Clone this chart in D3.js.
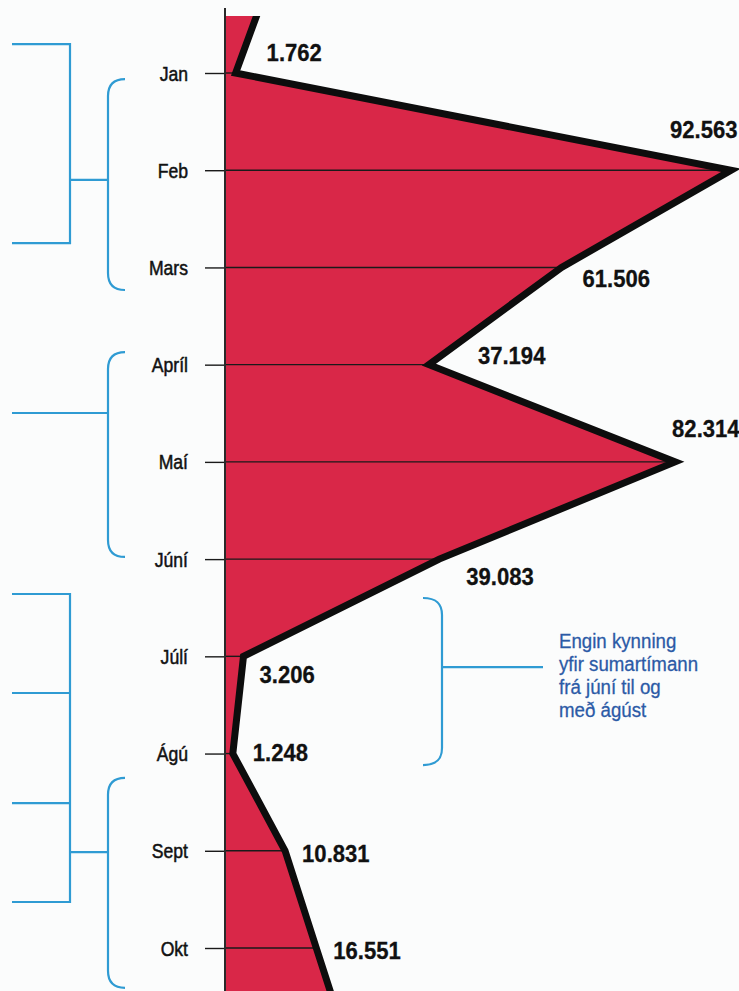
<!DOCTYPE html>
<html>
<head>
<meta charset="utf-8">
<script src="https://cdn.jsdelivr.net/npm/d3@7"></script>
<style>
  html, body { margin: 0; padding: 0; background: #fbfcfc; }
  svg { display: block; }
</style>
</head>
<body>
<svg id="chart" width="739" height="991"></svg>
<script>
// ---- data ----
const months = ["Jan", "Feb", "Mars", "Apríl", "Maí", "Júní", "Júlí", "Ágú", "Sept", "Okt"];
const values = [1.762, 92.563, 61.506, 37.194, 82.314, 39.083, 3.206, 1.248, 10.831, 16.551];
const valueLabels = ["1.762", "92.563", "61.506", "37.194", "82.314", "39.083", "3.206", "1.248", "10.831", "16.551"];
// months just outside the frame (Des before, Nóv after), estimated from the line's slope
const prevValue = 8.3;
const nextValue = 22.3;
const noteLines = ["Engin kynning", "yfir sumartímann", "frá júní til og", "með ágúst"];

// ---- layout ----
const W = 739, H = 991;
const svg = d3.select("#chart");
const y = d3.scaleLinear().domain([0, months.length - 1]).range([73, 948]);
const x = d3.scaleLinear().domain([0, 92.563]).range([226, 731]);

const series = [{ i: -1, v: prevValue }]
  .concat(values.map((v, i) => ({ i, v })))
  .concat([{ i: months.length, v: nextValue }]);

svg.append("defs").append("clipPath").attr("id", "clip")
  .append("rect").attr("x", 0).attr("y", 16).attr("width", W).attr("height", H - 16);

const RED = "#d92748";
const BLUE = "#2f9bd3";

const g = svg.append("g").attr("clip-path", "url(#clip)");

const area = d3.area()
  .y(d => y(d.i))
  .x0(x(0))
  .x1(d => x(d.v));
g.append("path").datum(series).attr("d", area).attr("fill", RED);

// thin lines from axis to value
g.selectAll("line.grid").data(values).join("line")
  .attr("class", "grid")
  .attr("x1", x(0)).attr("x2", d => x(d))
  .attr("y1", (d, i) => y(i)).attr("y2", (d, i) => y(i))
  .attr("stroke", "#1a1a1a").attr("stroke-width", 1.4);

const line = d3.line().y(d => y(d.i)).x(d => x(d.v));
g.append("path").datum(series).attr("d", line)
  .attr("fill", "none").attr("stroke", "#0d0d0d")
  .attr("stroke-width", 7).attr("stroke-linejoin", "miter").attr("stroke-miterlimit", 6);

// axis
const axis = d3.axisLeft(y)
  .tickValues(d3.range(months.length))
  .tickFormat(i => months[i])
  .tickSize(21)
  .tickSizeOuter(0);
const ax = svg.append("g").attr("transform", `translate(${x(0)},0)`).call(axis);
ax.select(".domain").remove();
ax.selectAll(".tick line").attr("stroke", "#1a1a1a").attr("stroke-width", 1.4);
ax.selectAll(".tick text")
  .attr("x", 0).attr("dy", "0.35em")
  .attr("transform", "translate(-38,0) scale(0.88,1)")
  .attr("font-family", "'Liberation Sans', Arial, sans-serif")
  .attr("font-size", 20)
  .attr("fill", "#111")
  .attr("stroke", "#111").attr("stroke-width", 0.5)
  .attr("text-anchor", "end");

svg.append("line")
  .attr("x1", x(0) - 1).attr("x2", x(0) - 1)
  .attr("y1", 8).attr("y2", H)
  .attr("stroke", "#2a2a2a").attr("stroke-width", 2);

// value labels (offsets from each point)
const labelOffsets = [[31, -21], [-61, -41], [21, 11], [49, -9], [-3, -33], [27, 17], [16, 18], [20, -1], [17, 3], [17, 2]];
svg.selectAll("text.val").data(values).join("text")
  .attr("class", "val")
  .attr("transform", (d, i) => `translate(${x(d) + labelOffsets[i][0]},${y(i) + labelOffsets[i][1] + 8.6}) scale(0.92,1)`)
  .attr("font-family", "'Liberation Sans', Arial, sans-serif")
  .attr("font-weight", "bold")
  .attr("font-size", 24)
  .attr("fill", "#111")
  .attr("stroke", "#111").attr("stroke-width", 0.3)
  .text((d, i) => valueLabels[i]);

// ---- brackets ----
const bl = svg.append("g").attr("fill", "none").attr("stroke", BLUE).attr("stroke-width", 2.2);
function curly(xv, xe, t, b) {
  const r = 17, dir = xe > xv ? 1 : -1;
  return `M${xe},${t} C${xv + dir * 5},${t} ${xv},${t + 6} ${xv},${t + r}` +
         ` L${xv},${b - r} C${xv},${b - 6} ${xv + dir * 5},${b} ${xe},${b}`;
}
function square(x0, x1, t, b) {
  return `M${x0},${t} L${x1},${t} L${x1},${b} L${x0},${b}`;
}
// group 1
bl.append("path").attr("d", square(12, 70, y(-0.298), y(1.749)));
bl.append("path").attr("d", `M70,${y(1.10)} L108,${y(1.10)}`);
bl.append("path").attr("d", curly(108, 125, y(0.062), y(2.232)));
// group 2
bl.append("path").attr("d", `M12,${y(3.497)} L108,${y(3.497)}`);
bl.append("path").attr("d", curly(108, 125, y(2.87), y(4.978)));
// group 3
bl.append("path").attr("d", square(12, 70, y(5.359), y(8.527)));
bl.append("path").attr("d", `M12,${y(6.377)} L70,${y(6.377)} M12,${y(7.509)} L70,${y(7.509)}`);
bl.append("path").attr("d", `M70,${y(8.013)} L108,${y(8.013)}`);
bl.append("path").attr("d", curly(108, 125, y(7.25), y(9.41)));
// annotation bracket
bl.append("path").attr("d", curly(442, 423, y(5.40), y(7.118)));
bl.append("path").attr("d", `M442,${y(6.11)} L543,${y(6.11)}`);

// annotation text
const note = svg.append("text")
  .attr("transform", `translate(559,${y(5.95) - 3}) scale(0.89,1)`)
  .attr("font-family", "'Liberation Sans', Arial, sans-serif")
  .attr("font-size", 21)
  .attr("fill", "#2b5aa6")
  .attr("stroke", "#2b5aa6").attr("stroke-width", 0.3);
note.selectAll("tspan").data(noteLines).join("tspan")
  .attr("x", 0).attr("y", (d, i) => i * 23)
  .text(d => d);
</script>
</body>
</html>
